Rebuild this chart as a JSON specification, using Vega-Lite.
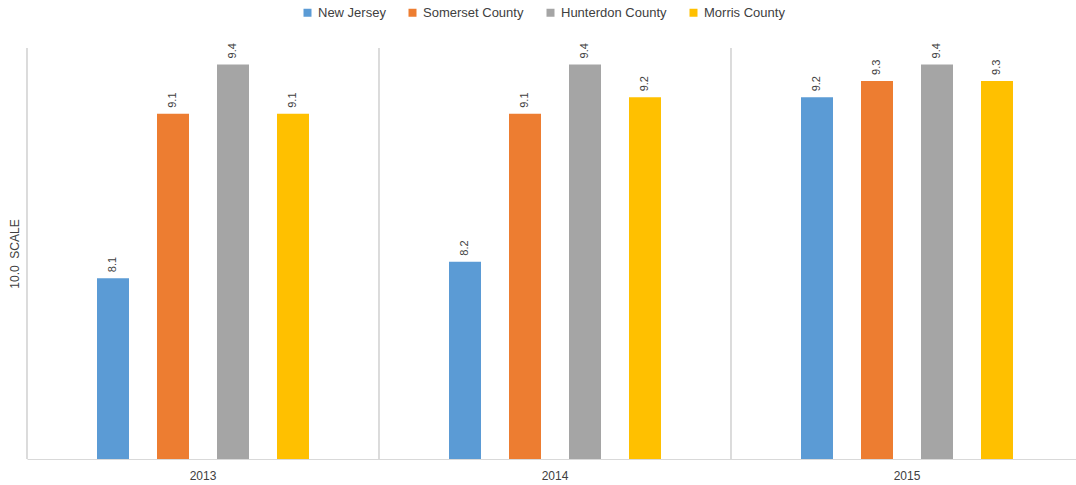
{
  "$schema": "https://vega.github.io/schema/vega-lite/v6.json",
  "autosize": {"type": "none"},
  "padding": {"left": 27, "top": 48, "right": 0, "bottom": 26},
  "width": 1056,
  "height": 411,
  "background": "white",
  "config": {
    "view": {"stroke": null},
    "font": "Liberation Sans",
    "axis": {"labelFont": "Liberation Sans", "titleFont": "Liberation Sans"},
    "legend": {"labelFont": "Liberation Sans"}
  },
  "data": {
    "values": [
      {"year": "2013", "series": "New Jersey", "value": 8.1},
      {"year": "2013", "series": "Somerset County", "value": 9.1},
      {"year": "2013", "series": "Hunterdon County", "value": 9.4},
      {"year": "2013", "series": "Morris County", "value": 9.1},
      {"year": "2014", "series": "New Jersey", "value": 8.2},
      {"year": "2014", "series": "Somerset County", "value": 9.1},
      {"year": "2014", "series": "Hunterdon County", "value": 9.4},
      {"year": "2014", "series": "Morris County", "value": 9.2},
      {"year": "2015", "series": "New Jersey", "value": 9.2},
      {"year": "2015", "series": "Somerset County", "value": 9.3},
      {"year": "2015", "series": "Hunterdon County", "value": 9.4},
      {"year": "2015", "series": "Morris County", "value": 9.3}
    ]
  },
  "encoding": {
    "x": {
      "field": "year", "type": "nominal",
      "scale": {"paddingInner": 0, "paddingOuter": 0},
      "axis": {
        "title": null, "labelAngle": 0, "ticks": false, "domainColor": "#d9d9d9", "domainWidth": 1,
        "labelColor": "#404040", "labelFontSize": 12, "labelPadding": 11, "grid": false
      }
    }
  },
  "layer": [
    {
      "mark": {"type": "rule", "color": "#d9d9d9", "strokeWidth": 1},
      "encoding": {
        "x": {"field": "year", "type": "nominal", "bandPosition": 0}
      }
    },
    {
      "mark": {"type": "bar", "clip": true, "width": 32},
      "encoding": {
        "xOffset": {
          "field": "series", "type": "nominal",
          "sort": ["New Jersey", "Somerset County", "Hunterdon County", "Morris County"],
          "scale": {"paddingInner": 0.1333, "paddingOuter": 1}
        },
        "y": {
          "field": "value", "type": "quantitative",
          "scale": {"domain": [7, 9.5], "zero": false, "nice": false},
          "axis": {
            "title": "10.0\u00a0 SCALE", "domain": false, "ticks": false, "labels": false, "grid": false,
            "titleFontSize": 12, "titleFontWeight": "normal", "titleColor": "#404040", "titlePadding": 6
          }
        },
        "color": {
          "field": "series", "type": "nominal",
          "sort": ["New Jersey", "Somerset County", "Hunterdon County", "Morris County"],
          "scale": {
            "domain": ["New Jersey", "Somerset County", "Hunterdon County", "Morris County"],
            "range": ["#5B9BD5", "#ED7D31", "#A5A5A5", "#FFC000"]
          },
          "legend": {
            "title": null, "orient": "none", "direction": "horizontal",
            "legendX": 274, "legendY": -42,
            "symbolType": "square", "symbolSize": 64, "symbolStrokeWidth": 0,
            "labelFontSize": 13, "labelColor": "#404040", "columnPadding": 20, "labelOffset": 4
          }
        }
      }
    },
    {
      "mark": {"type": "text", "angle": 270, "align": "left", "baseline": "middle", "dx": 6, "fontSize": 11, "color": "#404040"},
      "encoding": {
        "xOffset": {
          "field": "series", "type": "nominal",
          "sort": ["New Jersey", "Somerset County", "Hunterdon County", "Morris County"]
        },
        "y": {"field": "value", "type": "quantitative"},
        "text": {"field": "value", "type": "quantitative", "format": ".1f"}
      }
    }
  ]
}
